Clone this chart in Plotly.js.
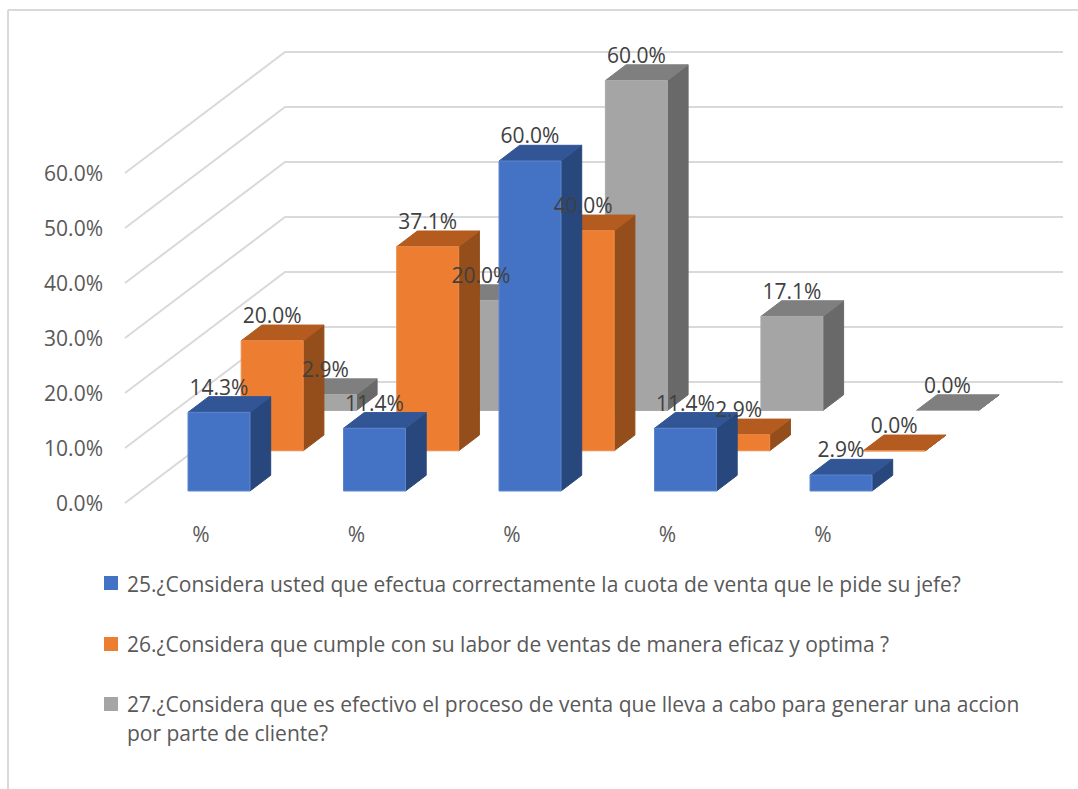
<!DOCTYPE html>
<html>
<head>
<meta charset="utf-8">
<script src="https://cdn.plot.ly/plotly-3.0.1.min.js"></script>
<style>html,body{margin:0;padding:0;background:#fff;overflow:hidden}</style>
</head>
<body>
<div id="chart" style="width:1078px;height:789px"></div>
<script>
// Survey answers, in percent, one value per answer group
const categories = ["%", "%", "%", "%", "%"];
const valuesQ25 = [14.3, 11.4, 60.0, 11.4, 2.9];
const valuesQ26 = [20.0, 37.1, 40.0, 2.9, 0.0];
const valuesQ27 = [2.9, 20.0, 60.0, 17.1, 0.0];
const axisValues = [0, 10, 20, 30, 40, 50, 60];
const legendQ25 = "25.¿Considera usted que efectua correctamente la cuota de venta que le pide su jefe?";
const legendQ26 = "26.¿Considera que cumple con su labor de ventas de manera eficaz y optima ?";
const legendQ27a = "27.¿Considera que es efectivo el proceso de venta que lleva a cabo para generar una accion";
const legendQ27b = "por parte de cliente?";

// Canvas layout
const W = 1078, H = 789;
const M = {l: 104, r: 8, t: 10, b: 269};
const pxPerCat = 155.5, pxPerPct = 5.5;
const cat1Px = 201, zeroPx = 491;        // where category 1 and 0 % land on screen
const dX = px => px / pxPerCat, dY = px => px / pxPerPct;

// Oblique projection used for the fake 3D columns (all in axis units)
const barLeft = dX(-13), barW = dX(62);
const slantX = dX(20.7), slantY = dY(15.7);
const rowX = dX(53.2), rowY = dY(40.25);
const wallFrontY = dY(-12), wallRise = dY(121);
const wallFrontX = 1 + dX(125 - cat1Px), wallKneeX = 1 + dX(285 - cat1Px), wallEndX = 1 + dX(1063 - cat1Px);
const labelLift = dY(23);
const tickDrop = dY(-13);

const FONT = "'Open Sans', sans-serif";

const series = [
  {name: "Q27", values: valuesQ27, row: 2, front: "#A5A5A5", top: "#7F7F7F", side: "#696969", edge: "#ABABAB"},
  {name: "Q26", values: valuesQ26, row: 1, front: "#ED7D31", top: "#B45B1F", side: "#934E1B", edge: "#EF8C4A"},
  {name: "Q25", values: valuesQ25, row: 0, front: "#4472C4", top: "#325695", side: "#28477D", edge: "#5E86CE"}
];

function facesOf(s) {
  const f = {x: [], y: []}, t = {x: [], y: []}, r = {x: [], y: []};
  s.values.forEach((v, i) => {
    const x0 = i + 1 + barLeft + s.row * rowX, x1 = x0 + barW;
    const y0 = s.row * rowY, y1 = y0 + v;
    f.x.push(x0, x1, x1, x0, x0, null);
    f.y.push(y0, y0, y1, y1, y0, null);
    t.x.push(x0, x1, x1 + slantX, x0 + slantX, x0, null);
    t.y.push(y1, y1, y1 + slantY, y1 + slantY, y1, null);
    r.x.push(x1, x1 + slantX, x1 + slantX, x1, x1, null);
    r.y.push(y0, y0 + slantY, y1 + slantY, y1, y0, null);
  });
  return {f, t, r};
}

const polygon = (pts, fill, edge) => ({
  type: "scatter", mode: "lines", x: pts.x, y: pts.y, fill: "toself", fillcolor: fill,
  line: {color: edge, width: 1}, hoverinfo: "skip", showlegend: false
});

const traces = [];

// Side wall and back wall gridlines
axisValues.forEach(v => {
  traces.push({
    type: "scatter", mode: "lines",
    x: [wallFrontX, wallKneeX, wallEndX],
    y: [v + wallFrontY, v + wallFrontY + wallRise, v + wallFrontY + wallRise],
    line: {color: "#D9D9D9", width: 2}, hoverinfo: "skip", showlegend: false
  });
});

// Columns, back row first so nearer rows cover it
series.forEach(s => {
  const {f, t, r} = facesOf(s);
  traces.push(polygon(r, s.side, s.side));
  traces.push(polygon(t, s.top, s.top));
  traces.push(polygon(f, s.front, s.edge));
});

// Value labels above each column
series.forEach(s => {
  traces.push({
    type: "scatter", mode: "text",
    x: s.values.map((v, i) => i + 1 + barLeft + barW / 2 + s.row * rowX),
    y: s.values.map(v => v + s.row * rowY + labelLift),
    text: s.values.map(v => v.toFixed(1) + "%"),
    textposition: "middle center", cliponaxis: false,
    textfont: {family: FONT, size: 21, color: "#404040"},
    hoverinfo: "skip", showlegend: false
  });
});

// Pixel helpers for the key below the plot and the chart frame
const plotW = W - M.l - M.r, plotH = H - M.t - M.b;
const paperX = px => (px - M.l) / plotW;
const paperY = py => 1 - (py - M.t) / plotH;

const keyRows = [
  {text: legendQ25, color: "#4472C4", y: 583.5, box: 576},
  {text: legendQ26, color: "#ED7D31", y: 643.5, box: 637},
  {text: legendQ27a, color: "#A5A5A5", y: 703.5, box: 697},
  {text: legendQ27b, color: null, y: 732.5}
];

const annotations = keyRows.map(k => ({
  xref: "paper", yref: "paper", x: paperX(125), y: paperY(k.y),
  xanchor: "left", yanchor: "middle", showarrow: false, align: "left",
  text: k.text, font: {family: FONT, size: 21, color: "#595959"}
}));

const shapes = keyRows.filter(k => k.color).map(k => ({
  type: "rect", xref: "paper", yref: "paper", layer: "above",
  x0: paperX(104), x1: paperX(118), y0: paperY(k.box), y1: paperY(k.box + 14),
  fillcolor: k.color, line: {width: 0}
}));
shapes.push(
  {type: "line", xref: "paper", yref: "paper", x0: paperX(8), x1: paperX(1078), y0: paperY(10), y1: paperY(10), line: {color: "#D9D9D9", width: 2}},
  {type: "line", xref: "paper", yref: "paper", x0: paperX(8), x1: paperX(8), y0: paperY(10), y1: paperY(789), line: {color: "#D9D9D9", width: 2}}
);

const layout = {
  width: W, height: H, margin: M, showlegend: false,
  paper_bgcolor: "#FFFFFF", plot_bgcolor: "rgba(0,0,0,0)",
  xaxis: {
    range: [1 + dX(M.l - cat1Px), 1 + dX(W - M.r - cat1Px)],
    tickvals: categories.map((c, i) => i + 1), ticktext: categories,
    showgrid: false, zeroline: false, showline: false, ticks: "", fixedrange: true,
    tickfont: {family: FONT, size: 21, color: "#595959"}
  },
  yaxis: {
    range: [dY(zeroPx - (H - M.b)), dY(zeroPx - M.t)],
    tickvals: axisValues.map(v => v + tickDrop), ticktext: axisValues.map(v => v.toFixed(1) + "%"),
    showgrid: false, zeroline: false, showline: false, ticks: "", fixedrange: true,
    tickfont: {family: FONT, size: 21, color: "#595959"}
  },
  annotations, shapes
};

Plotly.newPlot("chart", traces, layout, {displayModeBar: false, staticPlot: true});
</script>
</body>
</html>
